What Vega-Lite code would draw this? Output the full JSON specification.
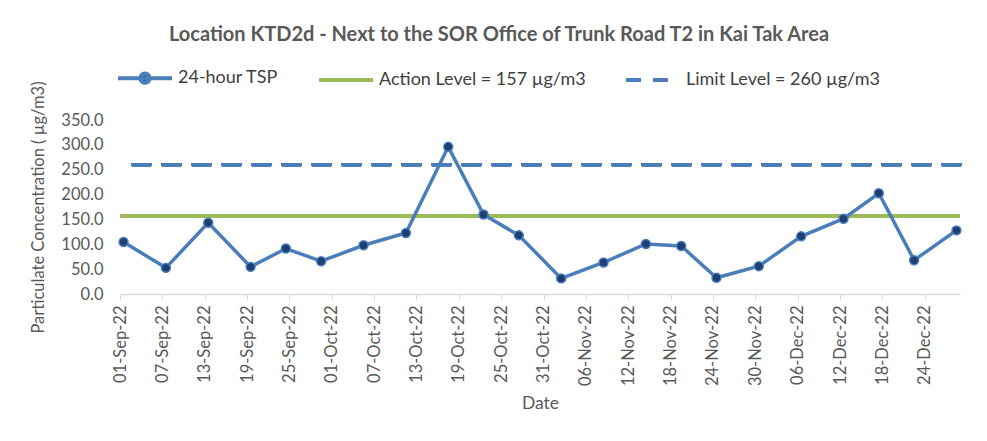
{
  "$schema": "https://vega.github.io/schema/vega-lite/v6.json",
  "width": 840,
  "height": 174,
  "autosize": "none",
  "padding": {"left": 120, "top": 120, "right": 27, "bottom": 147},
  "background": "white",
  "config": {
    "font": "Lato",
    "view": {"stroke": null},
    "axis": {"labelFont": "Lato", "titleFont": "Lato", "labelColor": "#595959", "titleColor": "#595959", "titleFontWeight": "normal"},
    "axisY": {
      "titleFontSize": 16.5,
      "titlePadding": 14,
      "labelFontSize": 16.5,
      "labelPadding": 17,
      "labelOverlap": false,
      "tickCount": 8,
      "domain": false,
      "ticks": false,
      "gridColor": "#D9D9D9",
      "gridWidth": 1.2
    }
  },
  "title": {
    "text": "Location KTD2d - Next to the SOR Office of Trunk Road T2 in Kai Tak Area",
    "anchor": "middle",
    "dx": -41,
    "offset": 4,
    "font": "Lato",
    "fontSize": 20,
    "fontWeight": "bold",
    "color": "#595959"
  },
  "data": {
    "values": [
      {"date": "2022-09-01", "tsp": 104.6},
      {"date": "2022-09-07", "tsp": 52.6},
      {"date": "2022-09-13", "tsp": 143.4},
      {"date": "2022-09-19", "tsp": 54.6},
      {"date": "2022-09-24", "tsp": 91.4},
      {"date": "2022-09-29", "tsp": 66.0},
      {"date": "2022-10-05", "tsp": 98.0},
      {"date": "2022-10-11", "tsp": 122.6},
      {"date": "2022-10-17", "tsp": 296.0},
      {"date": "2022-10-22", "tsp": 160.0},
      {"date": "2022-10-27", "tsp": 118.0},
      {"date": "2022-11-02", "tsp": 31.4},
      {"date": "2022-11-08", "tsp": 63.4},
      {"date": "2022-11-14", "tsp": 100.6},
      {"date": "2022-11-19", "tsp": 96.6},
      {"date": "2022-11-24", "tsp": 32.6},
      {"date": "2022-11-30", "tsp": 56.0},
      {"date": "2022-12-06", "tsp": 116.0},
      {"date": "2022-12-12", "tsp": 151.4},
      {"date": "2022-12-17", "tsp": 202.6},
      {"date": "2022-12-22", "tsp": 68.0},
      {"date": "2022-12-28", "tsp": 128.0}
    ]
  },
  "encoding": {
    "x": {
      "field": "date",
      "type": "temporal",
      "scale": {
        "type": "utc",
        "domain": [
          {"year": 2022, "month": 8, "date": 31, "hours": 12, "utc": true},
          {"year": 2022, "month": 12, "date": 28, "hours": 12, "utc": true}
        ]
      },
      "axis": {
        "title": "Date",
        "titleFontSize": 17.5,
        "titlePadding": 9,
        "labelFontSize": 16.5,
        "labelAngle": -90,
        "labelAlign": "right",
        "labelBaseline": "middle",
        "labelPadding": 5,
        "labelOverlap": false,
        "grid": false,
        "tickSize": 6,
        "tickColor": "#D9D9D9",
        "domainColor": "#D9D9D9",
        "domainWidth": 1.5,
        "labelExpr": "utcFormat(datum.value + 43200000, '%d-%b-%y')",
        "values": [
          {"year": 2022, "month": 8, "date": 31, "hours": 12, "utc": true},
          {"year": 2022, "month": 9, "date": 6, "hours": 12, "utc": true},
          {"year": 2022, "month": 9, "date": 12, "hours": 12, "utc": true},
          {"year": 2022, "month": 9, "date": 18, "hours": 12, "utc": true},
          {"year": 2022, "month": 9, "date": 24, "hours": 12, "utc": true},
          {"year": 2022, "month": 9, "date": 30, "hours": 12, "utc": true},
          {"year": 2022, "month": 10, "date": 6, "hours": 12, "utc": true},
          {"year": 2022, "month": 10, "date": 12, "hours": 12, "utc": true},
          {"year": 2022, "month": 10, "date": 18, "hours": 12, "utc": true},
          {"year": 2022, "month": 10, "date": 24, "hours": 12, "utc": true},
          {"year": 2022, "month": 10, "date": 30, "hours": 12, "utc": true},
          {"year": 2022, "month": 11, "date": 5, "hours": 12, "utc": true},
          {"year": 2022, "month": 11, "date": 11, "hours": 12, "utc": true},
          {"year": 2022, "month": 11, "date": 17, "hours": 12, "utc": true},
          {"year": 2022, "month": 11, "date": 23, "hours": 12, "utc": true},
          {"year": 2022, "month": 11, "date": 29, "hours": 12, "utc": true},
          {"year": 2022, "month": 12, "date": 5, "hours": 12, "utc": true},
          {"year": 2022, "month": 12, "date": 11, "hours": 12, "utc": true},
          {"year": 2022, "month": 12, "date": 17, "hours": 12, "utc": true},
          {"year": 2022, "month": 12, "date": 23, "hours": 12, "utc": true}
        ]
      }
    }
  },
  "layer": [
    {
      "mark": {"type": "rule", "strokeWidth": 3.5},
      "encoding": {
        "x": null,
        "y": {
          "datum": 157,
          "type": "quantitative",
          "scale": {"domain": [0, 350], "nice": false},
          "axis": {"title": "Particulate Concentration ( µg/m3)", "format": ".1f"}
        },
        "color": {"datum": "Action Level = 157 µg/m3"}
      }
    },
    {
      "mark": {"type": "rule", "strokeWidth": 3.5, "strokeDash": [17, 13], "strokeCap": "round"},
      "encoding": {
        "x": null,
        "y": {
          "datum": 260,
          "type": "quantitative",
          "axis": {"title": "Particulate Concentration ( µg/m3)", "format": ".1f"}
        },
        "color": {"datum": "Limit Level = 260 µg/m3"}
      }
    },
    {
      "mark": {"type": "line", "strokeWidth": 3.5},
      "encoding": {
        "y": {
          "field": "tsp",
          "type": "quantitative",
          "axis": {"title": "Particulate Concentration ( µg/m3)", "format": ".1f"}
        },
        "color": {
          "datum": "24-hour TSP",
          "scale": {
            "domain": ["24-hour TSP", "Action Level = 157 µg/m3", "Limit Level = 260 µg/m3"],
            "range": ["#4A7EBB", "#9BBB59", "#4A7EBB"]
          },
          "legend": {
            "title": null,
            "orient": "none",
            "legendX": -4,
            "legendY": -71,
            "direction": "horizontal",
            "symbolType": "stroke",
            "symbolSize": 2916,
            "symbolStrokeWidth": 4,
            "labelFont": "Lato",
            "labelFontSize": 18,
            "labelLimit": 400,
            "labelColor": "#404040",
            "labelOffset": 4,
            "columnPadding": 32,
            "encode": {
              "symbols": {
                "update": {
                  "shape": {"signal": "datum.value === '24-hour TSP' ? 'M-1,0H1M0.17,0A0.17,0.17,0,1,1,-0.17,0A0.17,0.17,0,1,1,0.17,0Z' : 'stroke'"},
                  "fill": {"signal": "datum.value === '24-hour TSP' ? '#1F3F73' : 'transparent'"},
                  "strokeDash": {"signal": "datum.value === '24-hour TSP' || datum.value === 'Action Level = 157 µg/m3' ? [1, 0] : [15, 12]"}
                }
              }
            }
          }
        }
      }
    },
    {
      "mark": {"type": "point", "filled": true, "size": 80, "fill": "#1F3F73", "stroke": "#4A7EBB", "strokeWidth": 1.5, "opacity": 1},
      "encoding": {
        "y": {"field": "tsp", "type": "quantitative"}
      }
    }
  ]
}
